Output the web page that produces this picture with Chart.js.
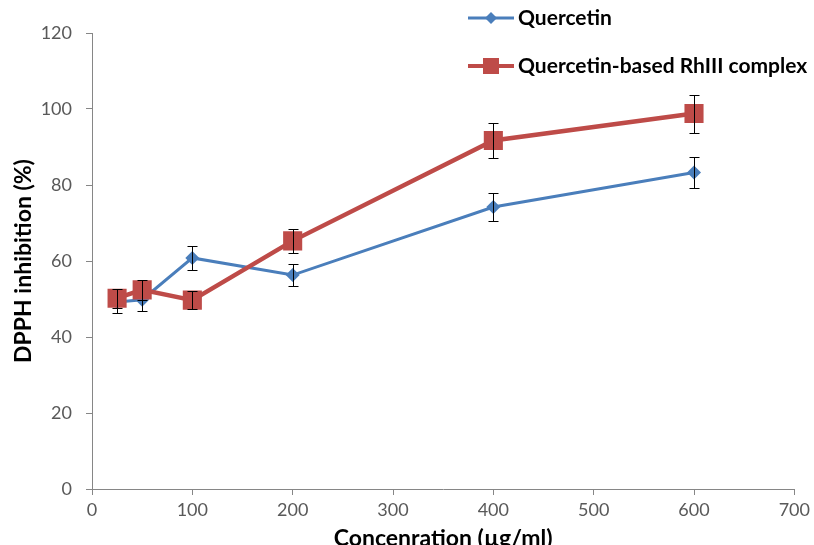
<!DOCTYPE html>
<html>
<head>
<meta charset="utf-8">
<script src="https://cdn.jsdelivr.net/npm/chart.js@4"></script>
<style>
  html, body { margin: 0; padding: 0; background: #fff; overflow: hidden; }
  #wrap { width: 814px; height: 552px; }
</style>
</head>
<body>
<div id="wrap"><canvas id="dpphChart"></canvas></div>
<script>
// Concentrations tested (µg/ml)
const concentrations = [25, 50, 100, 200, 400, 600];

// DPPH inhibition (%) with standard deviations
const quercetin = [49.2, 49.8, 60.8, 56.3, 74.2, 83.3];
const quercetinErr = [3.0, 3.0, 3.2, 3.0, 3.6, 4.1];
const complex = [50.2, 52.4, 49.7, 65.3, 91.7, 98.8];
const complexErr = [2.5, 2.6, 2.3, 3.2, 4.5, 5.0];

const seriesLabels = ['Quercetin', 'Quercetin-based RhIII complex'];
const xTicks = [0, 100, 200, 300, 400, 500, 600, 700];
const yTicks = [0, 20, 40, 60, 80, 100, 120];

const BLUE = '#4a7ebb';
const RED = '#be4b48';
const AXIS = '#868686';
const FONT = 'Lato, "Liberation Sans", sans-serif';

function toPoints(ys) {
  return concentrations.map((x, i) => ({ x: x, y: ys[i] }));
}

// Error bars drawn right after each dataset so later series cover them
const errorBars = {
  id: 'errorBars',
  afterDatasetDraw(chart, args) {
    const ds = chart.data.datasets[args.index];
    if (!ds.errors) return;
    const { ctx, scales } = chart;
    ctx.save();
    ctx.strokeStyle = '#000';
    ctx.lineWidth = 1;
    ds.data.forEach((p, i) => {
      const x = Math.round(scales.x.getPixelForValue(p.x)) + 0.5;
      const top = Math.round(scales.y.getPixelForValue(p.y + ds.errors[i])) + 0.5;
      const bot = Math.round(scales.y.getPixelForValue(p.y - ds.errors[i])) + 0.5;
      ctx.beginPath();
      ctx.moveTo(x, top); ctx.lineTo(x, bot);
      ctx.moveTo(x - 5, top); ctx.lineTo(x + 5, top);
      ctx.moveTo(x - 5, bot); ctx.lineTo(x + 5, bot);
      ctx.stroke();
    });
    ctx.restore();
  }
};

// Floating legend in the upper right corner
const floatLegend = {
  id: 'floatLegend',
  afterDraw(chart) {
    const ctx = chart.ctx;
    const rows = [
      { y: 18, color: BLUE, width: 3, marker: 'diamond', size: 6 },
      { y: 66, color: RED, width: 4, marker: 'square', size: 8 }
    ];
    ctx.save();
    rows.forEach((r, i) => {
      ctx.strokeStyle = r.color;
      ctx.fillStyle = r.color;
      ctx.lineWidth = r.width;
      ctx.beginPath();
      ctx.moveTo(468, r.y); ctx.lineTo(514, r.y);
      ctx.stroke();
      const cx = 491;
      ctx.beginPath();
      if (r.marker === 'diamond') {
        ctx.moveTo(cx, r.y - r.size); ctx.lineTo(cx + r.size, r.y);
        ctx.lineTo(cx, r.y + r.size); ctx.lineTo(cx - r.size, r.y);
        ctx.closePath();
      } else {
        ctx.rect(cx - r.size, r.y - r.size, r.size * 2, r.size * 2);
      }
      ctx.fill();
      ctx.fillStyle = '#000';
      ctx.font = 'bold 21px ' + FONT;
      ctx.textBaseline = 'middle';
      ctx.textAlign = 'left';
      ctx.fillText(seriesLabels[i], 518, r.y);
    });
    ctx.restore();
  }
};

new Chart(document.getElementById('dpphChart'), {
  type: 'line',
  data: {
    datasets: [
      {
        label: seriesLabels[0],
        data: toPoints(quercetin),
        errors: quercetinErr,
        borderColor: BLUE,
        backgroundColor: BLUE,
        borderWidth: 3,
        pointStyle: 'rectRot',
        pointRadius: 7,
        pointBorderWidth: 0,
        order: 2
      },
      {
        label: seriesLabels[1],
        data: toPoints(complex),
        errors: complexErr,
        borderColor: RED,
        backgroundColor: RED,
        borderWidth: 4.5,
        pointStyle: 'rect',
        pointRadius: 13.5,
        pointBorderWidth: 0,
        order: 1
      }
    ]
  },
  options: {
    responsive: true,
    maintainAspectRatio: false,
    animation: false,
    layout: { padding: { top: 33, right: 18, left: 10, bottom: 0 } },
    plugins: {
      legend: { display: false },
      tooltip: { enabled: false }
    },
    scales: {
      x: {
        type: 'linear',
        min: 0,
        max: 700,
        afterBuildTicks: (s) => { s.ticks = xTicks.map(v => ({ value: v })); },
        afterFit: (s) => { s.height = 63; },
        grid: { drawOnChartArea: false, color: AXIS, tickLength: 6 },
        border: { color: AXIS, width: 1 },
        ticks: { color: '#595959', font: { family: FONT, size: 18 }, padding: 4 },
        title: {
          display: true,
          text: 'Concenration (µg/ml)',
          color: '#000',
          font: { family: FONT, size: 23, weight: 'bold' },
          padding: { top: 0, bottom: 0 }
        }
      },
      y: {
        min: 0,
        max: 120,
        afterBuildTicks: (s) => { s.ticks = yTicks.map(v => ({ value: v })); },
        afterFit: (s) => { s.width = 82; },
        grid: { drawOnChartArea: false, color: AXIS, tickLength: 6 },
        border: { color: AXIS, width: 1 },
        ticks: { color: '#595959', font: { family: FONT, size: 18 }, padding: 14 },
        title: {
          display: true,
          text: 'DPPH inhibition (%)',
          color: '#000',
          font: { family: FONT, size: 23, weight: 'bold' },
          padding: { top: 0, bottom: 0 }
        }
      }
    }
  },
  plugins: [errorBars, floatLegend]
});
</script>
</body>
</html>
